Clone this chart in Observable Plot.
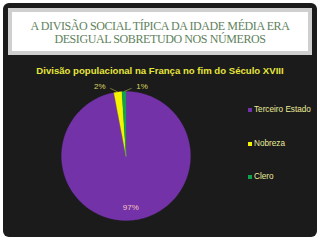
<!DOCTYPE html>
<html><head><meta charset="utf-8">
<script src="https://cdn.jsdelivr.net/npm/d3@7"></script>
<script src="https://cdn.jsdelivr.net/npm/@observablehq/plot@0.6"></script>
<style>
html,body{margin:0;padding:0;width:320px;height:240px;background:#fff;overflow:hidden;}
#frame{position:absolute;left:3px;top:3px;width:314px;height:234px;background:#1b1b1b;border-radius:6px;}
#banner{position:absolute;left:8px;top:8px;width:296px;height:31px;background:#fff;border:4px solid #cfcfcf;
  font-family:"Liberation Serif","DejaVu Serif",serif;font-size:12px;letter-spacing:-0.4px;color:#5e825c;text-align:center;line-height:12.5px;padding-top:8px;}
#ctitle{position:absolute;left:0;top:65px;width:320px;text-align:center;font-family:"Liberation Sans",Arial,sans-serif;
  font-weight:bold;font-size:9.6px;color:#e6e63a;}
#chart{position:absolute;left:0;top:78px;}
#legend{position:absolute;left:248px;top:105px;font-family:"Liberation Sans",Arial,sans-serif;font-size:8.2px;color:#ecec9a;}
#legend div{height:33.5px;display:flex;align-items:flex-start;}
#legend span.sw{display:inline-block;width:4px;height:4px;margin-right:2px;margin-top:3px;}
</style></head>
<body>
<div id="frame"></div>
<div id="banner">A DIVISÃO SOCIAL TÍPICA DA IDADE MÉDIA ERA<br>DESIGUAL SOBRETUDO NOS NÚMEROS</div>
<div id="ctitle">Divisão populacional na França no fim do Século XVIII</div>
<div id="chart"></div>
<div id="legend"></div>
<script>
const categories = ["Terceiro Estado", "Nobreza", "Clero"];
const values = [97, 2, 1];
const labels = ["97%", "2%", "1%"];
const colors = ["#7432a8", "#f5f500", "#11a04c"];

const data = categories.map((c, i) => ({name: c, value: values[i], label: labels[i]}));
const arcs = d3.pie().sort(null).value(d => d.value)(data);

// polygon outlines of slices (angle clockwise from 12 o'clock)
const pts = [];
arcs.forEach(a => {
  pts.push({name: a.data.name, x: 0, y: 0});
  const n = Math.max(2, Math.ceil((a.endAngle - a.startAngle) / 0.02));
  for (let k = 0; k <= n; k++) {
    const t = a.startAngle + (a.endAngle - a.startAngle) * k / n;
    pts.push({name: a.data.name, x: Math.sin(t), y: Math.cos(t)});
  }
  pts.push({name: a.data.name, x: 0, y: 0});
});

const labs = arcs.map(a => {
  const m = (a.startAngle + a.endAngle) / 2;
  const small = (a.endAngle - a.startAngle) < 0.5;
  if (!small) return {label: a.data.label, x: 0.8 * Math.sin(m), y: 0.8 * Math.cos(m), small: false};
  const side = a.index === 1 ? -1 : 1;
  const ex = Math.sin(m), ey = Math.cos(m);
  return {label: a.data.label, ex, ey,
    lx: ex + side * 0.12, ly: 1.05, x: ex + side * 0.28, y: 1.08, small: true, side};
});

const plot = Plot.plot({
  width: 320, height: 158,
  margin: 0,
  x: {domain: [-1, 1], range: [61, 190], axis: null},
  y: {domain: [-1, 1], range: [142, 13], axis: null},
  color: {domain: categories, range: colors},
  style: {background: "transparent", overflow: "visible"},
  marks: [
    Plot.line(pts, {x: "x", y: "y", z: "name", fill: "name", stroke: "name", strokeWidth: 0.3}),
    Plot.link(labs.filter(d => d.small), {x1: "ex", y1: "ey", x2: "lx", y2: "ly", stroke: "#8f8f3a", strokeWidth: 0.8}),
    Plot.text(labs.filter(d => d.small), {x: "x", y: "y", text: "label", fill: "#d8d860",
      fontSize: 8, fontFamily: "Liberation Sans, Arial, sans-serif"}),
    Plot.text(labs.filter(d => !d.small), {x: "x", y: "y", text: "label", fill: "#f2c6bd",
      fontSize: 8, fontFamily: "Liberation Sans, Arial, sans-serif"})
  ]
});
document.getElementById("chart").appendChild(plot);

const leg = document.getElementById("legend");
categories.forEach((c, i) => {
  const row = document.createElement("div");
  row.innerHTML = `<span class="sw" style="background:${colors[i]}"></span>${c}`;
  leg.appendChild(row);
});
</script>
</body></html>
